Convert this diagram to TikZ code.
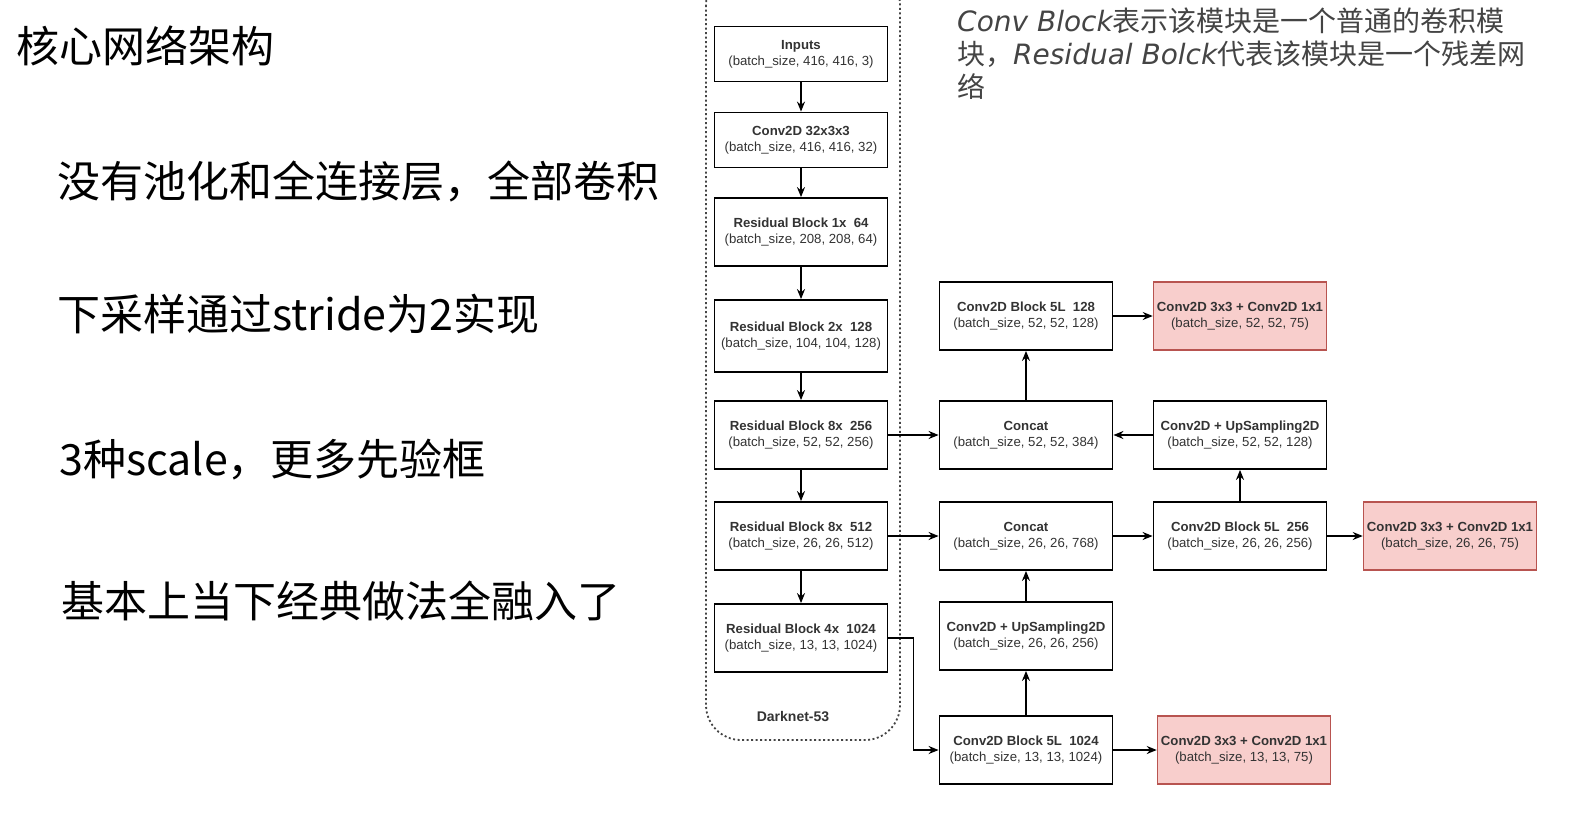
\documentclass[tikz,border=0pt]{standalone}
\usepackage{fontspec}
\setmainfont{Liberation Sans}
\newfontfamily\cjk{Noto Sans CJK SC}
\newfontfamily\handfont{DejaVu Sans}
\usepackage{tikz}
\usetikzlibrary{arrows.meta}
\usetikzlibrary{positioning}

\definecolor{boxtext}{HTML}{333333}
\definecolor{redfill}{HTML}{F8CECC}
\definecolor{redline}{HTML}{B85450}
\definecolor{notetext}{HTML}{444444}

\begin{document}
\begin{tikzpicture}[x=1pt, y=-1pt,
    layer/.style={draw, line width=1.8pt, minimum width=173pt, minimum height=68pt,
        align=center, text=boxtext, font=\fontsize{13.2}{16}\selectfont},
    headbox/.style={layer, fill=redfill, draw=redline, line width=1.5pt},
    flow/.style={line width=1.8pt, -{Stealth[length=10pt,width=8pt]}},
    bigline/.style={anchor=base west, inner sep=0pt, font=\cjk\fontsize{43}{50}\selectfont}]
 \useasboundingbox (0,0) rectangle (1593,825);

    % left text
    \node[bigline] (title) at (16,62) {核心网络架构};
    \node[bigline] (pointa) at (57,197) {没有池化和全连接层，全部卷积};
    \node[bigline] (pointb) at (57,330) {下采样通过stride为2实现};
    \node[bigline] (pointc) at (59,475) {3种scale，更多先验框};
    \node[bigline] (pointd) at (61,617) {基本上当下经典做法全融入了};

    % note at the top
    \node[anchor=base west, inner sep=0pt, text=notetext, font=\fontsize{28}{33}\selectfont] (notea) at (957,31)
        {{\handfont\itshape Conv Block}{\cjk 表示该模块是一个普通的卷积模}};
    \node[anchor=base west, inner sep=0pt, text=notetext, font=\fontsize{28}{33}\selectfont] (noteb) at (957,64)
        {{\cjk 块，}{\handfont\itshape Residual Bolck}{\cjk 代表该模块是一个残差网}};
    \node[anchor=base west, inner sep=0pt, text=notetext, font=\cjk\fontsize{28}{33}\selectfont] (notec) at (957,97) {络};

    % darknet-53 frame
    \draw[notetext, line width=1.8pt, dash pattern=on 2pt off 2.5pt, rounded corners=35pt]
        (706,-30) rectangle (900,740);
    \node[text=boxtext, font=\bfseries\fontsize{14}{16}\selectfont] (dark) at (793,716) {Darknet-53};

    % backbone
    \node[layer, minimum height=55pt] (inputs) at (801,54) {\textbf{Inputs}\\(batch\_size, 416, 416, 3)};
    \node[layer, minimum height=55pt] (conv) at (801,140) {\textbf{Conv2D 32x3x3}\\(batch\_size, 416, 416, 32)};
    \node[layer] (res1) at (801,232) {\textbf{Residual Block 1x\ \ 64}\\(batch\_size, 208, 208, 64)};
    \node[layer, minimum height=72pt] (res2) at (801,336) {\textbf{Residual Block 2x\ \ 128}\\(batch\_size, 104, 104, 128)};
    \node[layer] (res8a) at (801,435) {\textbf{Residual Block 8x\ \ 256}\\(batch\_size, 52, 52, 256)};
    \node[layer] (res8b) at (801,536) {\textbf{Residual Block 8x\ \ 512}\\(batch\_size, 26, 26, 512)};
    \node[layer] (res4) at (801,638) {\textbf{Residual Block 4x\ \ 1024}\\(batch\_size, 13, 13, 1024)};

    % middle column
    \node[layer] (blk128) at (1026,316) {\textbf{Conv2D Block 5L\ \ 128}\\(batch\_size, 52, 52, 128)};
    \node[layer] (cat52) at (1026,435) {\textbf{Concat}\\(batch\_size, 52, 52, 384)};
    \node[layer] (cat26) at (1026,536) {\textbf{Concat}\\(batch\_size, 26, 26, 768)};
    \node[layer] (up26) at (1026,636) {\textbf{Conv2D + UpSampling2D}\\(batch\_size, 26, 26, 256)};
    \node[layer] (blk1024) at (1026,750) {\textbf{Conv2D Block 5L\ \ 1024}\\(batch\_size, 13, 13, 1024)};

    % right column
    \node[headbox] (out52) at (1240,316) {\textbf{Conv2D 3x3 + Conv2D 1x1}\\(batch\_size, 52, 52, 75)};
    \node[layer] (up52) at (1240,435) {\textbf{Conv2D + UpSampling2D}\\(batch\_size, 52, 52, 128)};
    \node[layer] (blk256) at (1240,536) {\textbf{Conv2D Block 5L\ \ 256}\\(batch\_size, 26, 26, 256)};
    \node[headbox] (out26) at (1450,536) {\textbf{Conv2D 3x3 + Conv2D 1x1}\\(batch\_size, 26, 26, 75)};
    \node[headbox] (out13) at (1244,750) {\textbf{Conv2D 3x3 + Conv2D 1x1}\\(batch\_size, 13, 13, 75)};

    % connections
    \draw[flow] (inputs) -- (conv);
    \draw[flow] (conv) -- (res1);
    \draw[flow] (res1) -- (res2);
    \draw[flow] (res2) -- (res8a);
    \draw[flow] (res8a) -- (res8b);
    \draw[flow] (res8b) -- (res4);
    \draw[flow] (res8a) -- (cat52);
    \draw[flow] (res8b) -- (cat26);
    \draw[flow] (res4.east) -- ++(25,0) |- (blk1024.west);
    \draw[flow] (blk1024) -- (up26);
    \draw[flow] (up26) -- (cat26);
    \draw[flow] (cat26) -- (blk256);
    \draw[flow] (blk256) -- (out26);
    \draw[flow] (blk256) -- (up52);
    \draw[flow] (up52) -- (cat52);
    \draw[flow] (cat52) -- (blk128);
    \draw[flow] (blk128) -- (out52);
    \draw[flow] (blk1024) -- (out13);
\end{tikzpicture}
\end{document}
